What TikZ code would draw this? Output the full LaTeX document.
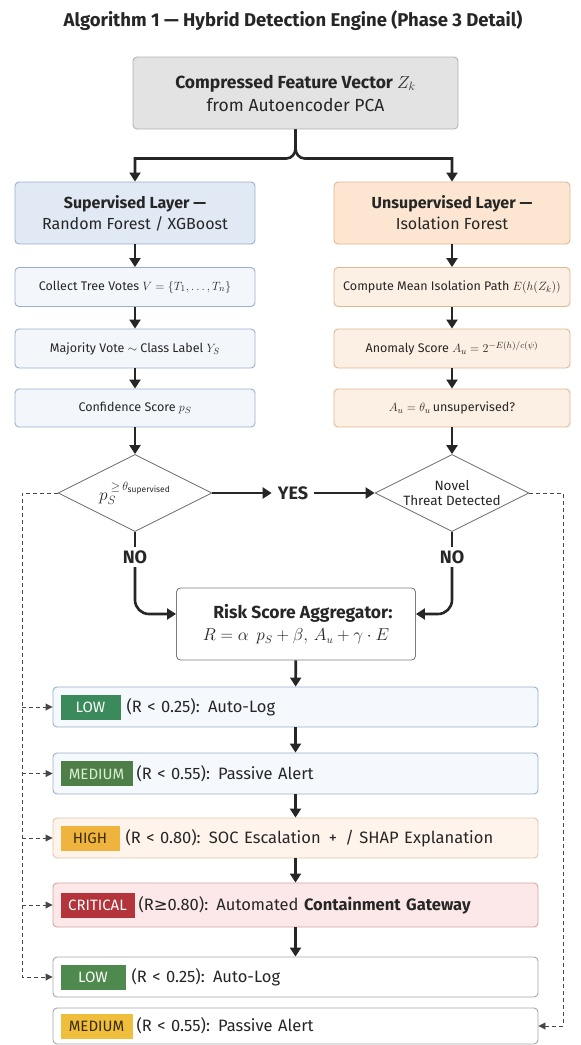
\documentclass[tikz,border=0pt]{standalone}
\usepackage{fontspec}
\setmainfont{Fira Sans}
\newfontfamily\symfont{DejaVu Sans}
\usetikzlibrary{arrows.meta,shapes.geometric,positioning}
\definecolor{ink}{HTML}{262626}
\definecolor{topgray}{HTML}{E3E3E3}
\definecolor{supfill}{HTML}{E1E9F5}
\definecolor{supedge}{HTML}{9AAFCB}
\definecolor{supstep}{HTML}{F3F7FC}
\definecolor{unsfill}{HTML}{FCE6D2}
\definecolor{unsedge}{HTML}{DDB994}
\definecolor{unsstep}{HTML}{FCEFE3}
\definecolor{lowfill}{HTML}{F5F9FD}
\definecolor{highfill}{HTML}{FFF4EC}
\definecolor{highedge}{HTML}{E2C3A5}
\definecolor{critfill}{HTML}{FCE8E8}
\definecolor{critedge}{HTML}{D4A3A3}
\definecolor{lowgreen}{HTML}{3B8A5C}
\definecolor{medgreen}{HTML}{4F7F48}
\definecolor{medtext}{HTML}{D9EFD3}
\definecolor{highamber}{HTML}{EFB43E}
\definecolor{darkamber}{HTML}{3A2A05}
\definecolor{critred}{HTML}{B3343A}
\definecolor{lowgreenb}{HTML}{4E8A4E}
\definecolor{medamber}{HTML}{EEBE3C}
\newcommand{\lvlbadge}[4]{{\setlength{\fboxsep}{0pt}\colorbox{#1}{\makebox[#2]{\rule[-7pt]{0pt}{25pt}\fontsize{15}{18}\selectfont\textcolor{#3}{#4}}}}}

\begin{document}
\begin{tikzpicture}[x=1pt,y=-1pt,
  card/.style={rounded corners=4pt,line width=0.9pt,align=center,text=ink},
  layerbox/.style={card,minimum width=240pt,minimum height=62pt,font=\fontsize{16}{21}\selectfont},
  stepbox/.style={card,minimum width=240pt,minimum height=39pt,font=\fontsize{12.5}{15}\selectfont},
  tierbox/.style={card,minimum width=485pt,minimum height=40pt,text width=470pt,align=left,font=\fontsize{16.5}{19}\selectfont},
  decbox/.style={diamond,draw=ink!70,line width=0.8pt,aspect=2,inner sep=0pt,minimum width=154pt,minimum height=77pt,align=center,text=ink,font=\fontsize{13.5}{15}\selectfont},
  flowarrow/.style={draw=ink,line width=2.6pt,-{Triangle[length=9pt,width=11pt]}},
  dashlink/.style={draw=ink!85,line width=0.9pt,dash pattern=on 4pt off 3pt,-{Triangle[length=7pt,width=7pt]}},
  verdict/.style={font=\bfseries\fontsize{18}{20}\selectfont,text=ink}]
\useasboundingbox (0,0) rectangle (581,1045);
\node[font=\bfseries\fontsize{18.5}{22}\selectfont,text=ink] (title) at (293,21) {Algorithm 1 — Hybrid Detection Engine (Phase 3 Detail)};
\node[card,draw=gray!60,fill=topgray,minimum width=325pt,minimum height=72pt,font=\fontsize{17.5}{23}\selectfont] (feat) at (295.5,93) {\textbf{Compressed Feature Vector $Z_k$}\\from Autoencoder PCA};
\node[layerbox,draw=supedge,fill=supfill] (sup) at (135,213) {\textbf{Supervised Layer —}\\Random Forest / XGBoost};
\node[layerbox,draw=unsedge,fill=unsfill,minimum width=236pt] (unsup) at (452,213) {\textbf{Unsupervised Layer —}\\Isolation Forest};
\node[stepbox,draw=supedge,fill=supstep] (votes) at (135,287) {Collect Tree Votes $V=\{T_1,\dots,T_n\}$};
\node[stepbox,draw=unsedge,fill=unsstep,minimum width=236pt] (path) at (452,287) {Compute Mean Isolation Path $E(h(Z_k))$};
\node[stepbox,draw=supedge,fill=supstep] (major) at (135,348.5) {Majority Vote $\sim$ Class Label $Y_S$};
\node[stepbox,draw=unsedge,fill=unsstep,minimum width=236pt] (anom) at (452,348.5) {Anomaly Score $A_u = 2^{-E(h)/c(\psi)}$};
\node[stepbox,draw=supedge,fill=supstep,minimum height=38pt] (conf) at (135,408) {Confidence Score $p_S$};
\node[stepbox,draw=unsedge,fill=unsstep,minimum width=236pt,minimum height=38pt] (thres) at (452,408) {$A_u = \theta_u$\,unsupervised?};
\node[decbox,font=\fontsize{17}{19}\selectfont] (supdec) at (135,493) {$p_S^{\;\geq\,\theta_{\mathrm{supervised}}}$};
\node[decbox] (novel) at (452,493) {Novel\\Threat Detected};
\node[verdict,inner xsep=6pt] (yes) at (293,493) {YES};
\node[verdict] (noL) at (135,557) {NO};
\node[verdict] (noR) at (452,557) {NO};
\node[card,draw=ink!60,fill=white,minimum width=239pt,minimum height=72pt,font=\fontsize{17.5}{22}\selectfont] (agg) at (296,624) {\hspace*{14pt}\textbf{Risk Score Aggregator:}\\{\fontsize{16}{20}\selectfont$R = \alpha\;\,p_S + \beta,\,A_u + \gamma\cdot E$}};
\node[tierbox,draw=supedge,fill=lowfill] (low) at (295.5,707) {\lvlbadge{lowgreen}{60pt}{white}{LOW}\hspace{6pt}(R < 0.25): Auto-Log};
\node[tierbox,draw=supedge,fill=lowfill,minimum height=41pt] (med) at (295.5,773.5) {\lvlbadge{medgreen}{72pt}{medtext}{MEDIUM}\hspace{4pt}(R < 0.55): Passive Alert};
\node[tierbox,draw=highedge,fill=highfill] (high) at (295.5,838) {\lvlbadge{highamber}{59pt}{darkamber}{HIGH}\hspace{6pt}(R < 0.80): SOC Escalation \,+\, / SHAP Explanation};
\node[tierbox,draw=critedge,fill=critfill,minimum height=44pt] (crit) at (295.5,905) {\lvlbadge{critred}{74pt}{white}{CRITICAL}\hspace{4pt}(R{\symfont ≥}0.80): Automated \textbf{Containment Gateway}};
\node[tierbox,draw=gray!70,fill=white] (lowb) at (295.5,977) {\lvlbadge{lowgreenb}{65pt}{white}{LOW}\hspace{6pt}(R < 0.25): Auto-Log};
\node[tierbox,draw=gray!70,fill=white,minimum height=36pt] (medb) at (295.5,1026) {\lvlbadge{medamber}{72pt}{darkamber}{MEDIUM}\hspace{4pt}(R < 0.55): Passive Alert};
\coordinate (railL) at (22,493);
\coordinate (railR) at (563,493);
\draw[flowarrow] (feat.south) -- ++(0,19) to[out=-90,in=0] ++(-9,10) -| (sup.north);
\draw[flowarrow] (feat.south) -- ++(0,19) to[out=-90,in=180] ++(9,10) -| (unsup.north);
\foreach \a/\b in {sup/votes,votes/major,major/conf,conf/supdec,unsup/path,path/anom,anom/thres,thres/novel,agg/low,low/med,med/high,high/crit,crit/lowb}
  \draw[flowarrow] (\a) -- (\b);
\draw[flowarrow] (supdec) -- (yes);
\draw[flowarrow] (yes) -- (novel);
\draw[draw=ink,line width=2.6pt] (supdec.south) -- (noL);
\draw[draw=ink,line width=2.6pt] (novel.south) -- (noR);
\draw[flowarrow,rounded corners=14pt] (noL) |- ([yshift=10pt]agg.west);
\draw[flowarrow,rounded corners=14pt] (noR) |- ([yshift=10pt]agg.east);
\draw[dashlink] (supdec.west) -- (railL) |- (lowb.west);
\foreach \t in {low,med,high,crit}
  \draw[dashlink] (railL |- \t.west) -- (\t.west);
\draw[dashlink] (novel.east) -- (railR) |- (medb.east);
\end{tikzpicture}
\end{document}
